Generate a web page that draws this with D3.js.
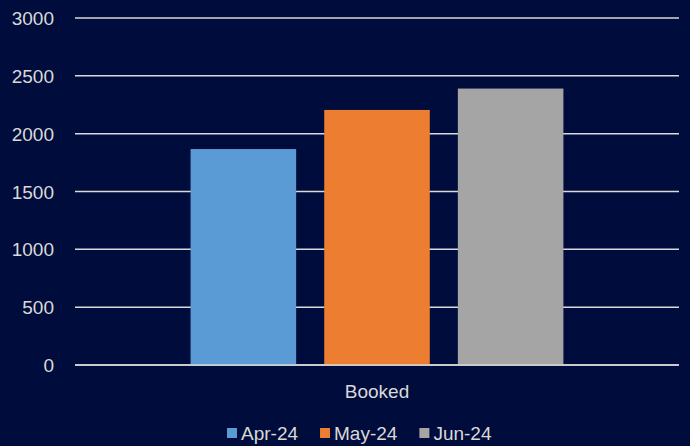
<!DOCTYPE html>
<html>
<head>
<meta charset="utf-8">
<script src="https://cdn.jsdelivr.net/npm/d3@7"></script>
<style>
  html, body { margin: 0; padding: 0; background: #000c3b; }
  svg { display: block; }
  text { font-family: "Liberation Sans", Arial, sans-serif; fill: #d9d9d9; }
</style>
</head>
<body>
<svg id="chart" width="690" height="446"></svg>
<script>
const categories = ["Booked"];
const seriesNames = ["Apr-24", "May-24", "Jun-24"];
const seriesColors = ["#5b9bd5", "#ed7d31", "#a5a5a5"];
const seriesValues = [[1867], [2205], [2390]];
const yTicks = [0, 500, 1000, 1500, 2000, 2500, 3000];

const W = 690, H = 446;
const FS = 19;
const margin = { left: 75, right: 11, top: 18, bottom: 81 };
const svg = d3.select("#chart");
svg.append("rect").attr("width", W).attr("height", H).attr("fill", "#000c3b");

const y = d3.scaleLinear().domain([0, 3000]).range([H - margin.bottom, margin.top]);
const x0 = d3.scaleBand().domain(categories).range([margin.left, W - margin.right])
  .paddingInner(0).paddingOuter(0.31);
const x1 = d3.scaleBand().domain(seriesNames).range([0, x0.bandwidth()]).paddingInner(0.21).paddingOuter(0);

// gridlines
svg.append("g").selectAll("line").data(yTicks).join("line")
  .attr("x1", margin.left).attr("x2", W - margin.right)
  .attr("y1", d => y(d)).attr("y2", d => y(d))
  .attr("stroke", "#d9d9d9").attr("stroke-width", 1.5);

// y labels
const yAxis = d3.axisLeft(y).tickValues(yTicks).tickFormat(d3.format("d")).tickSize(0).tickPadding(0);
const ga = svg.append("g").attr("transform", `translate(${margin.left - 21},0)`).call(yAxis);
ga.select(".domain").remove();
ga.selectAll("text").attr("font-size", FS).attr("fill", "#d9d9d9").attr("dy", "0.35em");

// bars
const groups = svg.append("g").selectAll("g").data(categories).join("g")
  .attr("transform", c => `translate(${x0(c)},0)`);
groups.selectAll("rect").data((c, ci) => seriesNames.map((s, si) => ({ s, si, v: seriesValues[si][ci] })))
  .join("rect")
  .attr("x", d => x1(d.s)).attr("width", x1.bandwidth())
  .attr("y", d => y(d.v)).attr("height", d => y(0) - y(d.v))
  .attr("fill", d => seriesColors[d.si]);

// redraw baseline on top
svg.append("line").attr("x1", margin.left).attr("x2", W - margin.right)
  .attr("y1", y(0)).attr("y2", y(0)).attr("stroke", "#d9d9d9").attr("stroke-width", 1.5);

// category label
const xAxis = d3.axisBottom(x0).tickSize(0).tickPadding(0);
const gx = svg.append("g").attr("transform", `translate(0,${y(0) + 33})`).call(xAxis);
gx.select(".domain").remove();
gx.selectAll("text").attr("font-size", FS).attr("fill", "#d9d9d9").attr("dy", 0);

// legend
const legend = svg.append("g");
let lx = 227;
const ly = 433;
seriesNames.forEach((s, i) => {
  legend.append("rect").attr("x", lx).attr("y", ly - 5).attr("width", 10).attr("height", 10)
    .attr("fill", seriesColors[i]);
  const t = legend.append("text").attr("x", lx + 14).attr("y", ly).attr("dy", "0.35em")
    .attr("font-size", FS).text(s);
  lx += 14 + t.node().getComputedTextLength() + 22;
});
</script>
</body>
</html>
